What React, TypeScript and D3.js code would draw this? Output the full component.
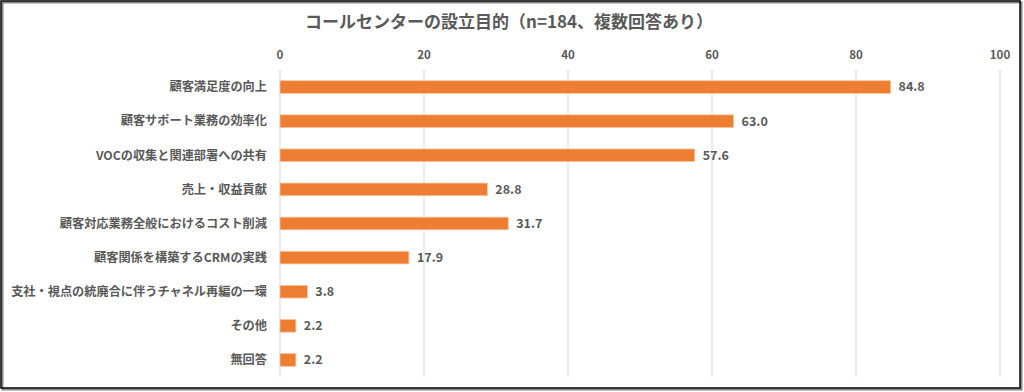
import React, { useEffect, useRef } from 'react';
import { select, scaleLinear, scaleBand } from 'd3';

const categories = [
  '顧客満足度の向上',
  '顧客サポート業務の効率化',
  'VOCの収集と関連部署への共有',
  '売上・収益貢献',
  '顧客対応業務全般におけるコスト削減',
  '顧客関係を構築するCRMの実践',
  '支社・視点の統廃合に伴うチャネル再編の一環',
  'その他',
  '無回答',
];
const values = [84.8, 63.0, 57.6, 28.8, 31.7, 17.9, 3.8, 2.2, 2.2];
const ticks = [0, 20, 40, 60, 80, 100];

const title = 'コールセンターの設立目的（n=184、複数回答あり）';

const W = 1024;
const H = 392;
const FONT = '"Noto Sans CJK JP", "Noto Sans", sans-serif';
const GREY = '#595959';

const App = () => {
  const svgRef = useRef<SVGSVGElement>(null);

  useEffect(() => {
    const svg = select(svgRef.current);
    svg.selectAll('*').remove();

    const x = scaleLinear().domain([0, 100]).range([280, 1000]);
    const y = scaleBand().domain(categories).range([70, 377]).paddingInner(0.63).paddingOuter(0.315);

    svg.append('rect').attr('width', W).attr('height', H).attr('fill', '#fff');

    // frame with shadow
    svg.append('rect')
      .attr('x', 2.5).attr('y', 2.5).attr('width', 1019).attr('height', 387)
      .attr('fill', 'none').attr('stroke', '#888').attr('stroke-width', 2);
    svg.append('rect')
      .attr('x', 1).attr('y', 1).attr('width', 1019).attr('height', 387)
      .attr('fill', 'none').attr('stroke', '#000').attr('stroke-width', 1.5);

    svg.append('text')
      .attr('x', 509).attr('y', 28)
      .attr('text-anchor', 'middle')
      .style('font-family', FONT).style('font-size', '17px').style('font-weight', 'bold')
      .attr('fill', GREY)
      .text(title);

    const grid = svg.append('g');
    grid.selectAll('line').data(ticks).enter().append('line')
      .attr('x1', d => x(d)).attr('x2', d => x(d))
      .attr('y1', 70).attr('y2', 377)
      .attr('stroke', '#d9d9d9').attr('stroke-width', 1);
    grid.selectAll('text').data(ticks).enter().append('text')
      .attr('x', d => x(d)).attr('y', 59)
      .attr('text-anchor', 'middle')
      .style('font-family', FONT).style('font-size', '11.5px').style('font-weight', 'bold')
      .attr('fill', GREY)
      .text(d => d);

    const rows = svg.append('g').selectAll('g').data(categories).enter().append('g');

    rows.append('rect')
      .attr('x', x(0)).attr('y', d => y(d)!)
      .attr('width', (d, i) => x(values[i]) - x(0))
      .attr('height', y.bandwidth())
      .attr('fill', '#ED7D31').attr('stroke', '#f7c39f').attr('stroke-width', 0.8);

    rows.append('text')
      .attr('x', 267).attr('y', d => y(d)! + y.bandwidth() / 2)
      .attr('dy', '0.35em').attr('text-anchor', 'end')
      .style('font-family', FONT).style('font-size', '12.2px').style('font-weight', 'bold')
      .attr('fill', GREY)
      .text(d => d);

    rows.append('text')
      .attr('x', (d, i) => x(values[i]) + 8).attr('y', d => y(d)! + y.bandwidth() / 2)
      .attr('dy', '0.35em')
      .style('font-family', FONT).style('font-size', '12.5px').style('font-weight', 'bold')
      .attr('fill', GREY)
      .text((d, i) => values[i].toFixed(1));
  }, []);

  return (
    <svg ref={svgRef} width={W} height={H} style={{ position: 'absolute', left: 0, top: 0 }} />
  );
};

export default App;
